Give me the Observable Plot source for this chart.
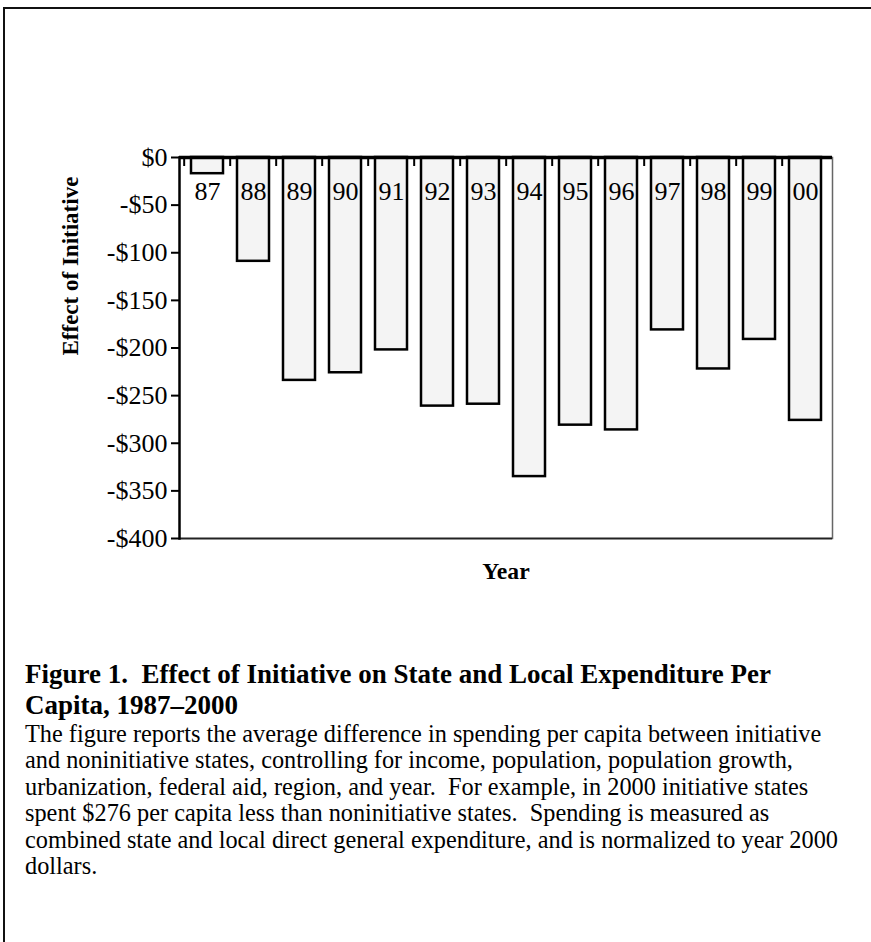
<!DOCTYPE html>
<html>
<head>
<meta charset="utf-8">
<script src="https://cdn.jsdelivr.net/npm/d3@7"></script>
<script src="https://cdn.jsdelivr.net/npm/@observablehq/plot@0.6"></script>
<style>
  html, body { margin: 0; padding: 0; background: #fff; }
  #page { position: relative; width: 871px; height: 942px; overflow: hidden; font-family: "Liberation Serif", "Times New Roman", serif; color: #000; background: #fff; }
  #frame { position: absolute; left: 3px; top: 7px; width: 900px; height: 1000px; border-top: 2.5px solid #111; border-left: 2.5px solid #111; box-sizing: border-box; }
  #chart { position: absolute; left: 0; top: 0; }
  #caption { position: absolute; left: 25px; top: 658.5px; width: 846px; white-space: nowrap; }
  #caption .title { margin: 0; font-size: 27px; line-height: 31px; font-weight: bold; }
  #caption .body { margin: 0; font-size: 24.3px; line-height: 26.5px; }
</style>
</head>
<body>
<div id="page">
  <div id="frame"></div>
  <div id="chart"></div>
  <div id="caption">
    <div class="title">Figure 1.&nbsp; Effect of Initiative on State and Local Expenditure Per<br>Capita, 1987–2000</div>
    <div class="body">The figure reports the average difference in spending per capita between initiative<br>and noninitiative states, controlling for income, population, population growth,<br>urbanization, federal aid, region, and year.&nbsp; For example, in 2000 initiative states<br>spent $276 per capita less than noninitiative states.&nbsp; Spending is measured as<br>combined state and local direct general expenditure, and is normalized to year 2000<br>dollars.</div>
  </div>
</div>
<script>
// Data
const years = ["87", "88", "89", "90", "91", "92", "93", "94", "95", "96", "97", "98", "99", "00"];
const effects = [-17, -109, -234, -226, -202, -261, -259, -335, -281, -286, -181, -222, -191, -276];
const yTicks = [0, -50, -100, -150, -200, -250, -300, -350, -400];
const yTickLabels = ["$0", "-$50", "-$100", "-$150", "-$200", "-$250", "-$300", "-$350", "-$400"];
const yTitle = "Effect of Initiative";
const xTitle = "Year";

const data = years.map((y, i) => ({year: y, value: effects[i], base: 0}));

const W = 871, H = 620;
const mL = 179, mR = 39, mT = 157, mB = H - 538;
const step = (W - mL - mR) / years.length;

const chart = Plot.plot({
  width: W,
  height: H,
  marginLeft: mL,
  marginRight: mR,
  marginTop: mT,
  marginBottom: mB,
  style: {fontFamily: "'Liberation Serif', 'Times New Roman', serif", color: "#000", background: "transparent"},
  x: {type: "band", domain: years, paddingInner: 0.31, paddingOuter: 0.155},
  y: {domain: [-400, 0]},
  marks: [
    Plot.frame({anchor: "right", stroke: "#666", strokeWidth: 1.5}),
    Plot.barY(data, {x: "year", y1: "base", y2: "value", fill: "#f4f4f4", stroke: "#000", strokeWidth: 2.5}),
    Plot.ruleY([-400], {stroke: "#222", strokeWidth: 2}),
    Plot.ruleY([0], {stroke: "#000", strokeWidth: 3.3}),
    Plot.frame({anchor: "left", stroke: "#000", strokeWidth: 2.5}),
    Plot.axisX({anchor: "top", tickSize: -8, tickFormat: () => "", dx: -step / 2, strokeWidth: 2, label: null}),
    Plot.axisY({
      ticks: yTicks,
      tickFormat: d => yTickLabels[yTicks.indexOf(d)],
      tickSize: 8,
      tickPadding: 4,
      strokeWidth: 2,
      fontSize: 26,
      label: null
    }),
    Plot.text(data, {x: "year", y: "base", text: "year", dy: 34, fontSize: 26, fill: "#000"}),
    Plot.text([yTitle], {frameAnchor: "left", dx: -109, dy: 7.5, rotate: -90, fontSize: 23, fontWeight: "bold", fill: "#000"}),
    Plot.text([xTitle], {frameAnchor: "bottom", dy: 40, fontSize: 23.7, fontWeight: "bold", fill: "#000"})
  ]
});
document.getElementById("chart").appendChild(chart);
</script>
</body>
</html>
